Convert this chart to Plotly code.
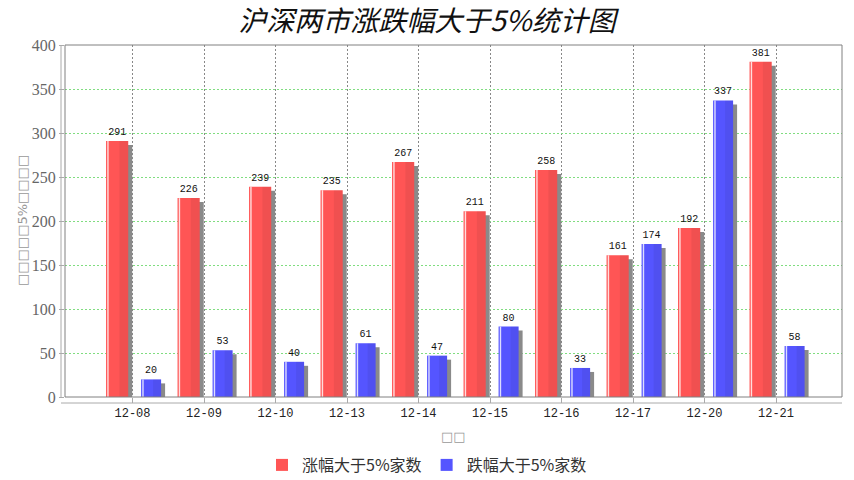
import plotly.graph_objects as go

categories = ["12-08", "12-09", "12-10", "12-13", "12-14", "12-15", "12-16", "12-17", "12-20", "12-21"]
rise_counts = [291, 226, 239, 235, 267, 211, 258, 161, 192, 381]
fall_counts = [20, 53, 40, 61, 47, 80, 33, 174, 337, 58]
series_names = ["涨幅大于5%家数", "跌幅大于5%家数"]
title_text = "沪深两市涨跌幅大于5%统计图"
y_title = "□□□□□5%□□□□"
x_title = "□□"

W, H = 854, 480
L, R, T, B = 65, 12, 45, 83
pw, ph = W - L - R, H - T - B
cat_px = 71.5
lo = -(132.5 - L) / cat_px
hi = lo + pw / cat_px
ymax = 400
px_per_unit = ph / ymax

shadow_dx = 4 / cat_px
shadow_dy = 4 / px_per_unit

red, blue, shadow = "#FF5555", "#5555FF", "#8a8a8a"
red_off, red_w = -0.37, 0.31
blue_off, blue_w = 0.12, 0.28

fig = go.Figure()
for vals, off, w in [(rise_counts, red_off, red_w), (fall_counts, blue_off, blue_w)]:
    fig.add_trace(go.Bar(
        x=categories, y=[max(v - shadow_dy, 0) for v in vals],
        offset=off + shadow_dx, width=w, marker=dict(color=shadow, line=dict(width=0)),
        showlegend=False, hoverinfo="skip"))

for name, vals, off, w, col in [(series_names[0], rise_counts, red_off, red_w, red),
                                 (series_names[1], fall_counts, blue_off, blue_w, blue)]:
    fig.add_trace(go.Bar(
        x=categories, y=vals, name=name, offset=off, width=w,
        marker=dict(color=col, line=dict(width=0)),
        text=[str(v) for v in vals], textposition="outside", constraintext="none",
        textfont=dict(family="Liberation Mono", size=10, color="#111"),
        cliponaxis=False))
    fig.add_trace(go.Bar(
        x=categories, y=vals, offset=off + 1.2 / cat_px, width=1.4 / cat_px,
        marker=dict(color="rgba(255,255,255,0.8)", line=dict(width=0)),
        showlegend=False, hoverinfo="skip"))
    fig.add_trace(go.Bar(
        x=categories, y=vals, offset=off + w * 0.6, width=w * 0.4,
        marker=dict(color="rgba(0,0,0,0.06)", line=dict(width=0)),
        showlegend=False, hoverinfo="skip"))

fig.update_layout(
    width=W, height=H, autosize=False, barmode="overlay",
    margin=dict(l=L, r=R, t=T, b=B, autoexpand=False),
    paper_bgcolor="white", plot_bgcolor="white",
    title=dict(text=title_text, x=0.5, xanchor="center", xref="container",
               y=1 - 21 / H, yanchor="middle", yref="container",
               font=dict(family="Noto Sans CJK SC", size=28, color="#111", style="italic")),
    xaxis=dict(type="category", range=[lo, hi], showgrid=True, gridcolor="#888",
               griddash="2px,2px", gridwidth=1, zeroline=False, showline=False,
               ticks="outside", ticklen=5, tickcolor="#aaa", tickangle=0,
               tickfont=dict(family="Liberation Mono", size=12, color="#222")),
    yaxis=dict(range=[0, ymax], dtick=50, showgrid=True, gridcolor="#80dd80",
               griddash="2px,2px", gridwidth=1, zeroline=False, showline=False,
               ticks="outside", ticklen=5, tickcolor="#aaa",
               tickfont=dict(family="Liberation Serif", size=16, color="#666")),
    legend=dict(orientation="h", x=(427 - L) / pw, xanchor="center",
                y=-(465 - (T + ph)) / ph, yanchor="middle",
                font=dict(family="Noto Sans CJK SC", size=16, color="#333"),
                itemwidth=30, traceorder="normal"),
    shapes=[
        dict(type="rect", xref="paper", yref="paper", x0=0, x1=1, y0=0, y1=1,
             line=dict(color="#808080", width=1), layer="above"),
        dict(type="line", xref="paper", yref="paper", x0=-4 / pw, x1=-4 / pw, y0=0, y1=1,
             line=dict(color="#aaaaaa", width=1)),
        dict(type="line", xref="paper", yref="paper", x0=-4 / pw, x1=1, y0=-6 / ph, y1=-6 / ph,
             line=dict(color="#aaaaaa", width=1)),
    ],
    annotations=[
        dict(text=x_title, xref="paper", yref="paper", x=0.5, y=-(437 - (T + ph)) / ph,
             xanchor="center", yanchor="middle", showarrow=False,
             font=dict(family="DejaVu Sans", size=13, color="#999")),
        dict(text=y_title, xref="paper", yref="paper", x=(22 - L) / pw, y=0.5,
             xanchor="center", yanchor="middle", textangle=-90, showarrow=False,
             font=dict(family="DejaVu Sans", size=13, color="#999")),
    ],
)

fig.write_html("out.html")
